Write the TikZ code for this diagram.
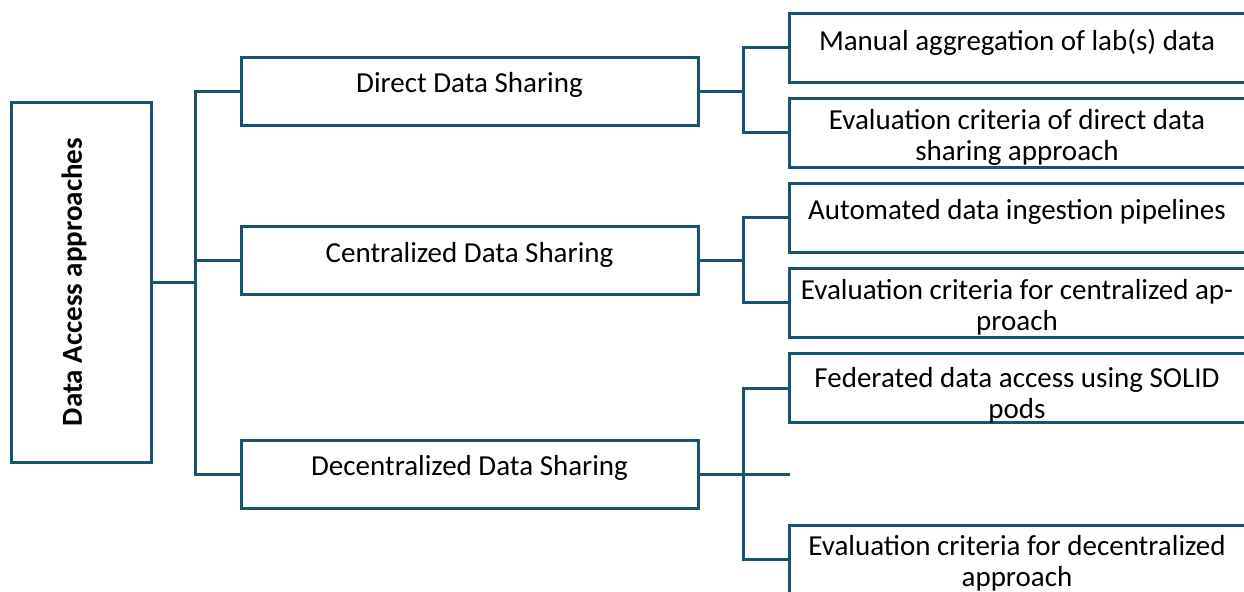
\documentclass[tikz,border=0pt]{standalone}
\usepackage{fontspec}
\setmainfont{Carlito}
\usetikzlibrary{positioning}
\definecolor{edgeblue}{RGB}{24,84,112}

\begin{document}
\begin{tikzpicture}[x=0.5pt,y=-0.5pt,line width=1.5pt,draw=edgeblue]
  \tikzstyle{box}=[rectangle,draw=edgeblue,fill=white,line width=1.5pt,inner sep=0pt]
  \tikzstyle{root box}=[box,minimum width=70pt,minimum height=180pt]
  \tikzstyle{branch box}=[box,minimum width=228.5pt,minimum height=34pt,font=\fontsize{14.5}{16}\selectfont]
  \tikzstyle{leaf box}=[box,minimum width=240pt,minimum height=34.5pt]
  \tikzstyle{leaf text}=[align=center,anchor=north,inner sep=0pt,font=\fontsize{14.5}{15.5}\selectfont]
  \tikzstyle{wire}=[draw=edgeblue,line width=1.5pt]

  \useasboundingbox (0,0) rectangle (1244,591);
  \clip (0,0) rectangle (1244,591);

  % Draw the root node
  \node[root box] (root) at (81,282) {};
  \node[rotate=90,font=\bfseries\fontsize{14.5}{16}\selectfont] (root-text) at ([xshift=-3.5pt]root.center) {Data Access approaches};

  % Draw the three approaches
  \foreach \name/\y/\txt in {direct/91/Direct Data Sharing,
                             central/260.5/Centralized Data Sharing,
                             decentral/474/Decentralized Data Sharing}
      \node[branch box] (\name) at (469.5,\y) {\raisebox{8.5pt}{\txt}};

  % Draw the leaves (cut off at the right border)
  \foreach \name/\y/\off/\txt in {L-1/47.5/15/{Manual aggregation of lab(s) data},
                                  L-2/132.5/10/{Evaluation criteria of direct data\\sharing approach},
                                  L-3/217.5/15/{Automated data ingestion pipelines},
                                  L-4/302.5/10/{Evaluation criteria for centralized ap-\\proach},
                                  L-5/388/12/{Federated data access using SOLID\\pods},
                                  L-6/559.5/9/{Evaluation criteria for decentralized\\approach}}
  {
      \node[leaf box] (\name) at (1029,\y) {};
      \node[leaf text] at ([yshift=-\off*0.5pt]1017,\y-34.5) {\txt};
  }

  % Branching points
  \coordinate (hub) at (195,282);
  \coordinate (direct-split) at (743,91);
  \coordinate (central-split) at (743,260.5);
  \coordinate (decentral-split) at (743,474);
  \coordinate (blank) at (790,474);

  % Connect the root with the approaches
  \draw[wire] (root.east) -- (hub);
  \draw[wire] (direct.west) -| (hub);
  \draw[wire] (decentral.west) -| (hub);
  \draw[wire] (central.west) -- (central.west -| hub);

  % Connect every approach with its leaves
  \draw[wire] (direct.east) -- (direct-split);
  \draw[wire] (L-1.west) -| (direct-split) |- (L-2.west);
  \draw[wire] (central.east) -- (central-split);
  \draw[wire] (L-3.west) -| (central-split) |- (L-4.west);
  \draw[wire] (decentral.east) -- (blank);
  \draw[wire] (L-5.west) -| (decentral-split) |- (L-6.west);
\end{tikzpicture}
\end{document}
